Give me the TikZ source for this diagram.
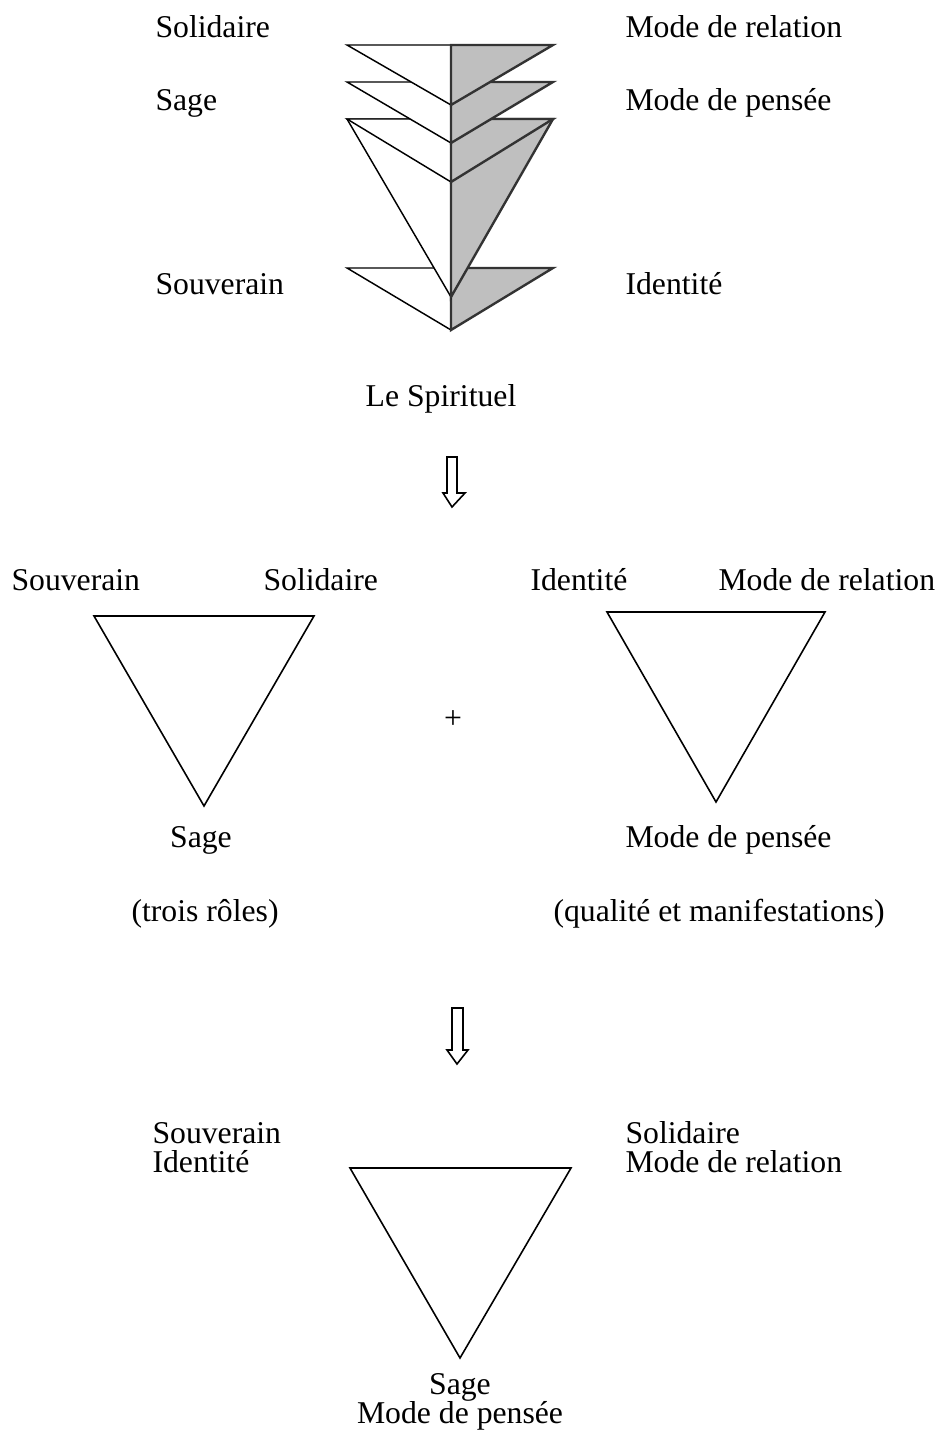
\documentclass[tikz,border=0pt]{standalone}
\usepackage{fontspec}
\setmainfont{Liberation Serif}
\usetikzlibrary{positioning}

\begin{document}
\begin{tikzpicture}[
    x=0.3785pt, y=-0.3785pt,
    lbl/.style = {inner sep=0pt, font=\fontsize{12}{14}\selectfont},
    lw/.style = {lbl, anchor=base west},
    lc/.style = {lbl, anchor=base},
    halfw/.style = {draw=black, fill=white, line width=0.55pt, line join=miter},
    halfg/.style = {draw=black!80, fill=black!25, line width=0.9pt, line join=miter},
    tri/.style = {draw, line width=0.6pt, line join=miter},
    bigarrow/.style = {draw, fill=white, line width=0.6pt, line join=miter}
    ]
    \useasboundingbox (0,0) rectangle (941,1441);

    % stacked triangles: bottom one first
    \foreach \top/\apex in {268/330, 119/297, 119/182, 82/143, 45/105}{
      \path[halfw] (347,\top) -- (451,\top) -- (451,\apex) -- cycle;
      \path[halfg] (451,\top) -- (553,\top) -- (451,\apex) -- cycle;
    }
    \node[lw] (sol1) at (155,38) {Solidaire};
    \node[lw] (sag1) at (155,111) {Sage};
    \node[lw] (sou1) at (155,295) {Souverain};
    \node[lw] (rel1) at (625,38) {Mode de relation};
    \node[lw] (pen1) at (625,111) {Mode de pensée};
    \node[lw] (ide1) at (625,295) {Identité};
    \node[lc] (spi) at (441,406) {Le Spirituel};

    \path[bigarrow] (447,457) -- (457,457) -- (457,493) -- (465,493) -- (452,507)
      -- (443,493) -- (447,493) -- cycle;

    % two triangles
    \node[lw] (sou2) at (11,590) {Souverain};
    \node[lw] (sol2) at (263,590) {Solidaire};
    \node[lw] (ide2) at (530,590) {Identité};
    \node[lw] (rel2) at (718,590) {Mode de relation};
    \path[tri] (94,616) -- (314,616) -- (204,806) -- cycle;
    \path[tri] (607,612) -- (825,612) -- (716,802) -- cycle;
    \node[lbl] (plus) at (453,720) {+};
    \node[lc] (sag2) at (201,847) {Sage};
    \node[lw] (pen2) at (625,847) {Mode de pensée};
    \node[lw] (roles) at (131,921) {(trois rôles)};
    \node[lw] (qual) at (553,921) {(qualité et manifestations)};

    \path[bigarrow] (452,1008) -- (463,1008) -- (463,1050) -- (468,1050) -- (457,1064)
      -- (447,1050) -- (452,1050) -- cycle;

    % result
    \node[lw] (sou3) at (152,1143) {Souverain};
    \node[lw] (ide3) at (152,1172) {Identité};
    \node[lw] (sol3) at (625,1143) {Solidaire};
    \node[lw] (rel3) at (625,1172) {Mode de relation};
    \path[tri] (350,1168) -- (571,1168) -- (460,1358) -- cycle;
    \node[lc] (sag3) at (460,1394) {Sage};
    \node[lc] (pen3) at (460,1423) {Mode de pensée};
  \end{tikzpicture}
\end{document}
